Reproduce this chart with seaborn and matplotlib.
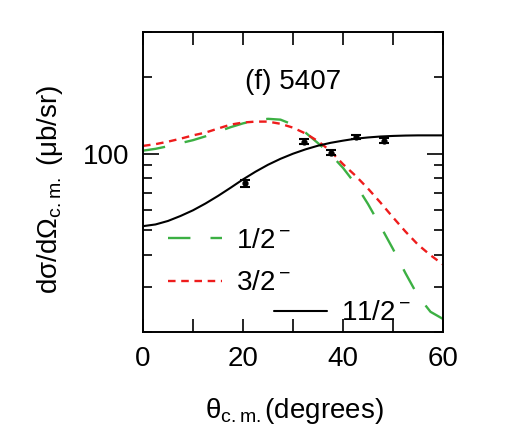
import matplotlib
matplotlib.use("Agg")
import matplotlib.pyplot as plt
import seaborn as sns
from matplotlib.ticker import MultipleLocator, LogLocator, NullFormatter, FuncFormatter

# angles (degrees, c.m.) at which the calculated curves were read
theta = [0, 2.5, 5, 7.5, 10, 12.5, 15, 17.5, 20, 22.5, 25, 27.5, 30,
         32.5, 35, 37.5, 40, 42.5, 45, 47.5, 50, 52.5, 55, 57.5, 60]

# calculated cross sections (ub/sr)
xsec_1half = [102.8, 104.5, 107, 110, 113, 117, 122, 127, 131.5, 135, 137, 136, 130,
              121, 110, 99.5, 88, 76, 63.5, 52, 42.3, 34, 27.7, 24, 22.5]
xsec_3half = [107.3, 109, 111.5, 114.5, 118, 121, 125.5, 130, 132.5, 133.6, 133.6, 131, 126.5,
              120, 112, 102.5, 91, 82, 73, 64.3, 56.3, 49.5, 44, 40, 36.8]
xsec_11half = [52, 52.8, 54.5, 57, 60, 63.8, 68.3, 73.5, 79.3, 85, 90.5, 95.5, 100,
               104, 107.5, 110.3, 112.5, 114.5, 115.8, 116.8, 117.4, 117.8, 118, 118, 118]

# measured points
theta_exp = [20.4, 32.1, 37.6, 42.6, 48.1]
xsec_exp = [76.6, 111.5, 101.0, 116.5, 112.5]
xsec_err = [2.6, 2.4, 2.4, 2.4, 2.4]

labels = ["1/2$^{\\rm -}$", "3/2$^{\\rm -}$", "11/2$^{\\rm -}$"]
x_ticks = [0, 20, 40, 60]

sns.set_style("ticks")
plt.rcParams['font.family'] = ['Liberation Sans', 'DejaVu Sans']
plt.rcParams['mathtext.fontset'] = 'custom'
plt.rcParams['mathtext.rm'] = 'Liberation Sans'
plt.rcParams['mathtext.it'] = 'Liberation Sans:italic'
plt.rcParams['mathtext.bf'] = 'Liberation Sans:bold'
for key in ['text.color', 'axes.labelcolor', 'xtick.color', 'ytick.color', 'axes.edgecolor']:
    plt.rcParams[key] = 'black'

fig = plt.figure(figsize=(5.09, 4.44), dpi=100)
ax = fig.add_axes([143 / 509, 112 / 444, 300 / 509, 300 / 444])

green = '#3cb043'
red = '#ee1c1c'

sns.lineplot(x=theta, y=xsec_1half, ax=ax, color=green, lw=1.7)
sns.lineplot(x=theta, y=xsec_3half, ax=ax, color=red, lw=1.7)
sns.lineplot(x=theta, y=xsec_11half, ax=ax, color='black', lw=1.5)
l_half, l_3half, l_11half = ax.get_lines()[:3]
l_half.set_dashes((9.5, 8.5))
l_3half.set_dashes((3.2, 2.4))

ax.errorbar(theta_exp, xsec_exp, yerr=xsec_err, fmt='o', ms=3.5, color='black',
            capsize=3.6, elinewidth=1.5, capthick=1.5)

ax.set_yscale('log')
ax.set_xlim(0, 60)
ax.set_ylim(20, 300)

ax.xaxis.set_major_locator(MultipleLocator(10))
ax.xaxis.set_major_formatter(FuncFormatter(lambda v, p: f"{v:.0f}" if round(v) in x_ticks else ""))
ax.yaxis.set_major_locator(LogLocator(base=10))
ax.yaxis.set_minor_locator(LogLocator(base=10, subs=range(2, 10)))
ax.yaxis.set_minor_formatter(NullFormatter())
ax.yaxis.set_major_formatter(FuncFormatter(lambda v, p: f"{v:.0f}"))

ax.tick_params(axis='x', which='both', direction='in', length=9.5, width=1.2,
               top=True, labelsize=20, pad=10)
ax.tick_params(axis='y', which='major', direction='in', length=11.5, width=1.2,
               right=True, labelsize=20, pad=10)
ax.tick_params(axis='y', which='minor', direction='in', length=6.5, width=1.2, right=True)
for s in ax.spines.values():
    s.set_linewidth(1.4)

ax.text(0.5, 0.835, "(f) 5407", transform=ax.transAxes, ha='center', va='center', fontsize=20)

ax.set_xlabel("θ$_{\\rm c.m.}$(degrees)", fontsize=20)
ax.xaxis.set_label_coords(0.503, -0.213)
ax.set_ylabel("dσ/dΩ$_{\\rm c.m.}$ (μb/sr)", fontsize=20)
ax.yaxis.set_label_coords(-0.26, 0.475)

leg1 = ax.legend([l_half, l_3half], labels[:2], loc='center left', bbox_to_anchor=(0.083, 0.233),
                 frameon=False, borderpad=0, borderaxespad=0, handlelength=1.94,
                 handletextpad=0.5, labelspacing=0.6, fontsize=20)
ax.add_artist(leg1)
ax.legend([l_11half], labels[2:], loc='center left', bbox_to_anchor=(0.435, 0.062),
          frameon=False, borderpad=0, borderaxespad=0, handlelength=1.94,
          handletextpad=0.5, fontsize=20)

fig.savefig('out.png', dpi=100)
